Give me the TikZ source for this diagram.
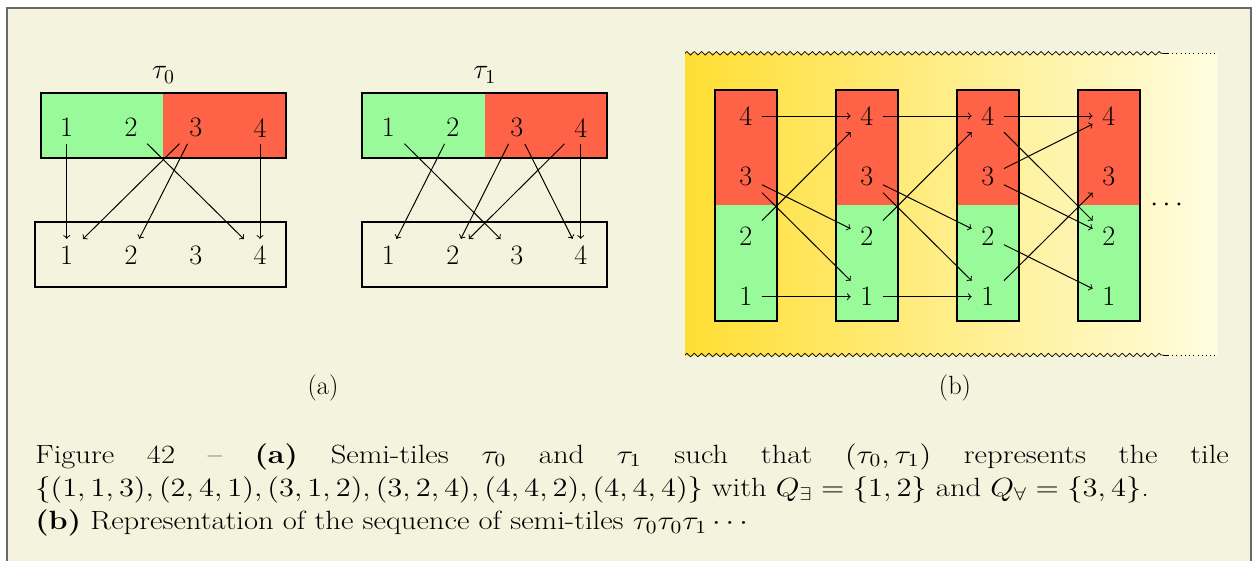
\RequirePackage{fix-cm}
\documentclass[tikz,border=0pt]{standalone}
\usepackage{amsmath}
\usepackage{amssymb}
\usepackage{graphicx}
\usepackage{tikz}
\usepackage{xcolor}
\usetikzlibrary{decorations.pathmorphing}

\definecolor{framebg}{RGB}{244,243,221}
\definecolor{framerule}{RGB}{105,105,105}
\definecolor{exgreen}{RGB}{153,250,153}
\definecolor{allred}{RGB}{255,99,71}
\definecolor{bandleft}{RGB}{255,222,51}
\definecolor{bandright}{RGB}{255,253,224}

\tikzset{
  st/.style={minimum size=18pt,inner sep=0pt},
  box/.style={line width=1.1pt},
  trans/.style={->,line width=0.55pt},
  zz/.style={decorate,decoration={zigzag,segment length=4.2pt,amplitude=1pt}},
  sublabel/.style={font=\fontsize{15}{18}\selectfont}
}

\begin{document}
\begin{tikzpicture}[x=0.02cm,y=-0.02cm,font=\fontsize{16}{19}\selectfont]
  \useasboundingbox (0,0) rectangle (1258,561);
  \fill[framebg] (7,8) rectangle (1251,561);
  \draw[framerule,line width=0.8pt] (7,561) -- (7,8) -- (1251,8) -- (1251,561);

  % (a) tau_0
  \node (tau0) at (163.4,75) {$\tau_0$};
  \fill[exgreen] (41,93.3) rectangle (163.4,157.7);
  \fill[allred] (163.4,93.3) rectangle (285.7,157.7);
  \draw[box] (41,93.3) rectangle (285.7,157.7);
  \draw[box] (35,222.3) rectangle (285.7,286.7);
  \node[st] (t0a1) at (66.7,127.7) {1};
  \node[st] (t0a2) at (131,127.7) {2};
  \node[st] (t0a3) at (195.7,127.7) {3};
  \node[st] (t0a4) at (260,127.7) {4};
  \node[st] (t0b1) at (66.7,255) {1};
  \node[st] (t0b2) at (131,255) {2};
  \node[st] (t0b3) at (195.7,255) {3};
  \node[st] (t0b4) at (260,255) {4};
  \draw[trans] (t0a1) -- (t0b1);
  \draw[trans] (t0a2) -- (t0b4);
  \draw[trans] (t0a3) -- (t0b1);
  \draw[trans] (t0a3) -- (t0b2);
  \draw[trans] (t0a4) -- (t0b4);

  % (a) tau_1
  \node (tau1) at (484.8,75) {$\tau_1$};
  \fill[exgreen] (362.3,93.3) rectangle (484.8,157.7);
  \fill[allred] (484.8,93.3) rectangle (607.3,157.7);
  \draw[box] (362.3,93.3) rectangle (607.3,157.7);
  \draw[box] (362.3,222.3) rectangle (607.3,286.7);
  \node[st] (t1a1) at (388.3,127.7) {1};
  \node[st] (t1a2) at (452.7,127.7) {2};
  \node[st] (t1a3) at (516.7,127.7) {3};
  \node[st] (t1a4) at (580.7,127.7) {4};
  \node[st] (t1b1) at (388.3,255) {1};
  \node[st] (t1b2) at (452.7,255) {2};
  \node[st] (t1b3) at (516.7,255) {3};
  \node[st] (t1b4) at (580.7,255) {4};
  \draw[trans] (t1a1) -- (t1b3);
  \draw[trans] (t1a2) -- (t1b1);
  \draw[trans] (t1a3) -- (t1b2);
  \draw[trans] (t1a3) -- (t1b4);
  \draw[trans] (t1a4) -- (t1b2);
  \draw[trans] (t1a4) -- (t1b4);
  \node[sublabel] (capa) at (323,388) {(a)};

  % (b) the sequence tau_0 tau_0 tau_1 ...
  \shade[left color=bandleft,right color=bandright] (685,53.3) rectangle (1217,355);
  \draw[zz] (685,53.3) -- (1163,53.3);
  \draw (1163,53.3) -- (1168,53.3);
  \draw[dotted] (1168,53.3) -- (1217,53.3);
  \draw[zz] (685,355) -- (1163,355);
  \draw (1163,355) -- (1168,355);
  \draw[dotted] (1168,355) -- (1217,355);

  \fill[allred] (715,90) rectangle (776.6,205.4);
  \fill[exgreen] (715,205.4) rectangle (776.6,320.7);
  \draw[box] (715,90) rectangle (776.6,320.7);
  \fill[allred] (836,90) rectangle (897.6,205.4);
  \fill[exgreen] (836,205.4) rectangle (897.6,320.7);
  \draw[box] (836,90) rectangle (897.6,320.7);
  \fill[allred] (957,90) rectangle (1018.6,205.4);
  \fill[exgreen] (957,205.4) rectangle (1018.6,320.7);
  \draw[box] (957,90) rectangle (1018.6,320.7);
  \fill[allred] (1078,90) rectangle (1139.6,205.4);
  \fill[exgreen] (1078,205.4) rectangle (1139.6,320.7);
  \draw[box] (1078,90) rectangle (1139.6,320.7);

  \node[st] (c1d4) at (745.8,116) {4};
  \node[st] (c1d3) at (745.8,176.7) {3};
  \node[st] (c1d2) at (745.8,236.7) {2};
  \node[st] (c1d1) at (745.8,296.7) {1};
  \node[st] (c2d4) at (866.8,116) {4};
  \node[st] (c2d3) at (866.8,176.7) {3};
  \node[st] (c2d2) at (866.8,236.7) {2};
  \node[st] (c2d1) at (866.8,296.7) {1};
  \node[st] (c3d4) at (987.8,116) {4};
  \node[st] (c3d3) at (987.8,176.7) {3};
  \node[st] (c3d2) at (987.8,236.7) {2};
  \node[st] (c3d1) at (987.8,296.7) {1};
  \node[st] (c4d4) at (1108.8,116) {4};
  \node[st] (c4d3) at (1108.8,176.7) {3};
  \node[st] (c4d2) at (1108.8,236.7) {2};
  \node[st] (c4d1) at (1108.8,296.7) {1};
  \node (more) at (1169,205) {$\cdots$};

  \draw[trans] (c1d1) -- (c2d1);
  \draw[trans] (c1d2) -- (c2d4);
  \draw[trans] (c1d3) -- (c2d1);
  \draw[trans] (c1d3) -- (c2d2);
  \draw[trans] (c1d4) -- (c2d4);
  \draw[trans] (c2d1) -- (c3d1);
  \draw[trans] (c2d2) -- (c3d4);
  \draw[trans] (c2d3) -- (c3d1);
  \draw[trans] (c2d3) -- (c3d2);
  \draw[trans] (c2d4) -- (c3d4);
  \draw[trans] (c3d1) -- (c4d3);
  \draw[trans] (c3d2) -- (c4d1);
  \draw[trans] (c3d3) -- (c4d2);
  \draw[trans] (c3d3) -- (c4d4);
  \draw[trans] (c3d4) -- (c4d2);
  \draw[trans] (c3d4) -- (c4d4);
  \node[sublabel] (capb) at (955,388) {(b)};

  % caption
  \node[anchor=base west,inner sep=0pt] (caption) at (35,463) {\scalebox{1.16}[1]{\begin{minipage}[t]{585.6pt}
    \fontsize{15}{19}\selectfont\tolerance=10000
    Figure 42 -- \textbf{(a)} Semi-tiles $\tau_0$ and $\tau_1$ such that $(\tau_0,\tau_1)$ represents the tile\linebreak
    $\{(1,1,3),(2,4,1),(3,1,2),(3,2,4),(4,4,2),(4,4,4)\}$ with $Q_\exists=\{1,2\}$ and $Q_\forall=\{3,4\}$.\\
    \textbf{(b)} Representation of the sequence of semi-tiles $\tau_0\tau_0\tau_1\cdots$
  \end{minipage}}};
\end{tikzpicture}
\end{document}
